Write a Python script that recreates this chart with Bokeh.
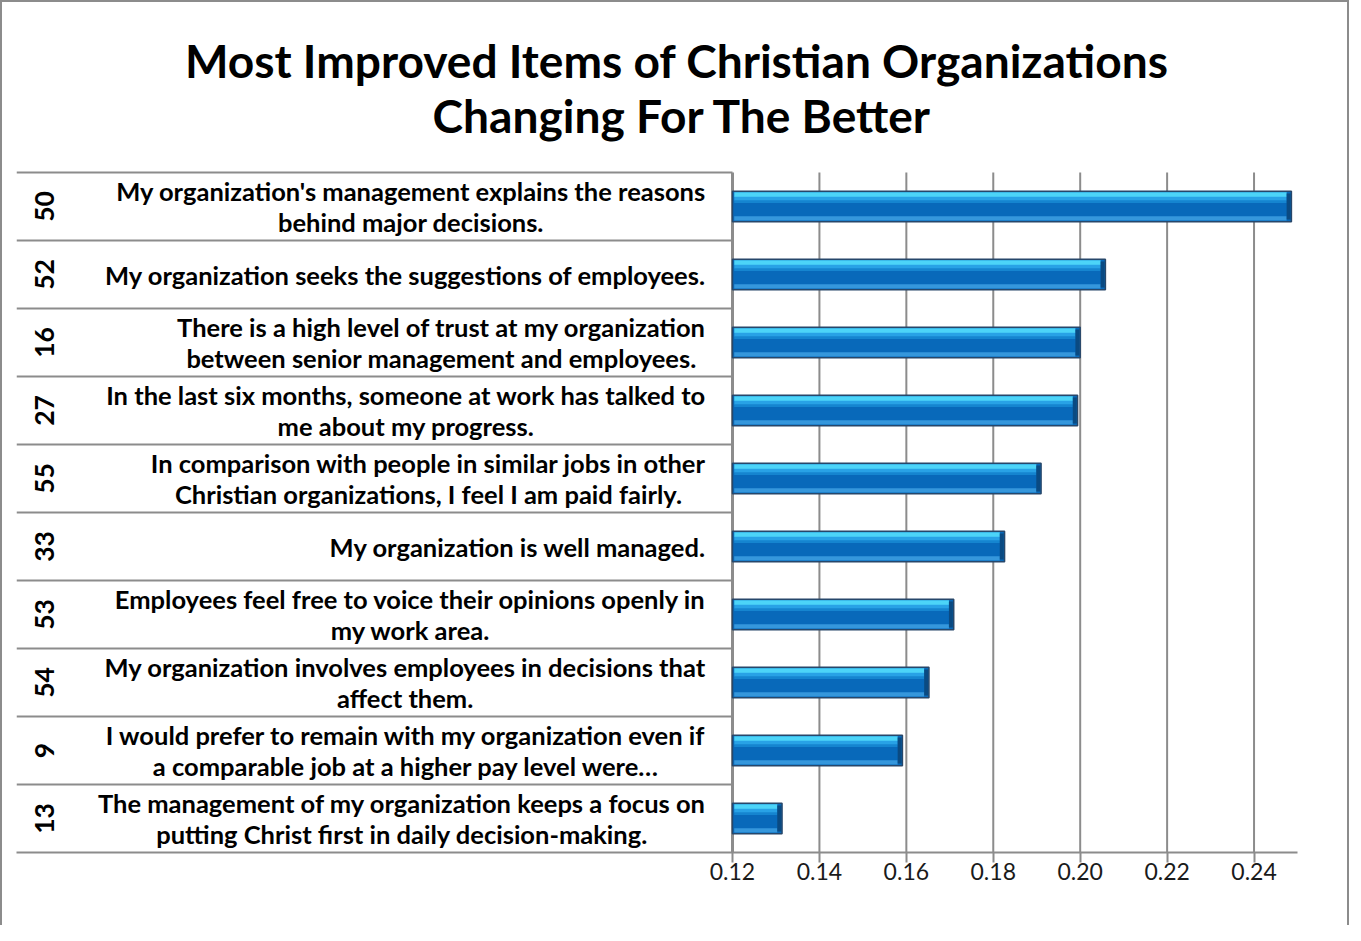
import subprocess
from bokeh.plotting import figure
from bokeh.models import (Range1d, FixedTicker, PrintfTickFormatter, ColumnDataSource)
from bokeh.core.properties import value
from bokeh.embed import file_html
from bokeh.resources import INLINE

# ---------------- data ----------------
item_ids = ["50", "52", "16", "27", "55", "33", "53", "54", "9", "13"]
item_texts = [
    ["My organization's management explains the reasons", "behind major decisions."],
    ["My organization seeks the suggestions of employees."],
    ["There is a high level of trust at my organization", "between senior management and employees."],
    ["In the last six months, someone at work has talked to", "me about my progress."],
    ["In comparison with people in similar jobs in other", "Christian organizations, I feel I am paid fairly."],
    ["My organization is well managed."],
    ["Employees feel free to voice their opinions openly in", "my work area."],
    ["My organization involves employees in decisions that", "affect them."],
    ["I would prefer to remain with my organization even if", "a comparable job at a higher pay level were\u2026"],
    ["The management of my organization keeps a focus on", "putting Christ first in daily decision-making."],
]
improvement = [0.2486, 0.2058, 0.2000, 0.1994, 0.1910, 0.1826, 0.1709, 0.1652, 0.1591, 0.1314]
tick_values = [0.12, 0.14, 0.16, 0.18, 0.20, 0.22, 0.24]
title_lines = ["Most Improved Items of  Christian Organizations", "Changing For The Better"]

# ---------------- layout constants (pixels) ----------------
FONT = "Lato"
W, H = 1349, 925
BORDER_L, BORDER_R, BORDER_T, BORDER_B = 14, 54, 0, 75
FRAME_W = W - BORDER_L - BORDER_R
FRAME_H = H - BORDER_T - BORDER_B
HEAD_PX = 170             # title band above the table
LABEL_AREA = 716          # frame-left to value axis
LABEL_RIGHT = 689         # right edge of statement text block
NUM_X = 28                # centre of the item-number column
TITLE_X = 666             # centre of the title
TITLE_Y = [57, 112]       # centres of the two title lines
X_MIN, X_MAX = 0.12, 0.25
n = len(item_ids)
ROW_PX = (FRAME_H - HEAD_PX) / n


def font_file(pattern):
    try:
        out = subprocess.run(["fc-match", "-f", "%{file}", pattern],
                             capture_output=True, text=True, timeout=5).stdout.strip()
        return out or None
    except Exception:
        return None


def measurer(pattern, fallback_em):
    try:
        from PIL import ImageFont
        f = ImageFont.truetype(font_file(pattern), 100)
        return lambda t, s: f.getlength(t) * s / 100.0
    except Exception:
        return lambda t, s: len(t) * fallback_em * s


m_bold = measurer(f"{FONT}:bold", 0.55)

label_size = 600.0 / m_bold("My organization seeks the suggestions of employees.", 1.0)
title_size = 995.0 / m_bold(title_lines[0], 1.0)
LINE_GAP = 31.0 / ROW_PX

# ---------------- figure ----------------
x_left = X_MIN - LABEL_AREA * (X_MAX - X_MIN) / (FRAME_W - LABEL_AREA)
y_top = -HEAD_PX / ROW_PX
p = figure(width=W, height=H, output_backend="svg", toolbar_location=None,
           x_range=Range1d(x_left, X_MAX), y_range=Range1d(n, y_top),
           min_border_left=BORDER_L, min_border_right=BORDER_R,
           min_border_top=BORDER_T, min_border_bottom=BORDER_B)
p.extra_x_ranges = {"px": Range1d(0, FRAME_W)}
p.extra_y_ranges = {"py": Range1d(FRAME_H, 0)}
p.outline_line_color = None
p.background_fill_color = "white"
p.border_fill_color = "white"
p.styles = {"border-top": "2px solid #8c8c8c", "border-left": "2px solid #8c8c8c",
            "border-right": "2px solid #8c8c8c"}

# axes
p.yaxis.visible = False
p.xgrid.visible = False
p.ygrid.visible = False
ticker = FixedTicker(ticks=tick_values)
p.xaxis.ticker = ticker
p.xaxis.formatter = PrintfTickFormatter(format="%.2f")
p.xaxis.axis_line_color = "#8c8c8c"
p.xaxis.axis_line_width = 2
p.xaxis.major_tick_line_color = "#8c8c8c"
p.xaxis.major_tick_line_width = 2
p.xaxis.major_tick_out = 10
p.xaxis.major_tick_in = 0
p.xaxis.minor_tick_line_color = None
p.xaxis.major_label_standoff = 0
p.xaxis.major_label_text_font = FONT
p.xaxis.major_label_text_font_size = "23px"
p.xaxis.major_label_text_color = "#1a1a1a"

# vertical grid lines over the bar area only
p.segment(x0=tick_values[1:], x1=tick_values[1:], y0=[0] * (len(tick_values) - 1),
          y1=[n] * (len(tick_values) - 1), line_color="#8c8c8c", line_width=2)
# value axis line
p.segment(x0=[X_MIN], x1=[X_MIN], y0=[0], y1=[n], line_color="#8c8c8c", line_width=3)

# table row lines
bounds = list(range(n))
p.segment(x0=[0] * n, x1=[LABEL_AREA] * n, y0=bounds, y1=bounds,
          x_range_name="px", line_color="#8c8c8c", line_width=2)

# bars (glossy look built from stacked bands)
rows = [i + 0.5 for i in range(n)]
BAR_H = 0.45
src = ColumnDataSource(dict(y=rows, v=improvement))
p.hbar(y="y", left=X_MIN, right="v", height=BAR_H, source=src,
       fill_color="#0869BA", line_color="#27476A", line_width=1.5)
top = [r - BAR_H / 2 for r in rows]
bot = [r + BAR_H / 2 for r in rows]
inner_r = [v - 0.0011 for v in improvement]
p.hbar(y=[t + 0.05 for t in top], left=X_MIN + 0.0004, right=inner_r,
       height=0.07, fill_color="#4CD4F8", line_color=None)
p.hbar(y=[t + 0.11 for t in top], left=X_MIN + 0.0004, right=inner_r,
       height=0.06, fill_color="#28A2E6", line_color=None)
p.hbar(y=[t + 0.155 for t in top], left=X_MIN + 0.0004, right=inner_r,
       height=0.04, fill_color="#1585D0", line_color=None)
p.hbar(y=[b - 0.05 for b in bot], left=X_MIN + 0.0004, right=inner_r,
       height=0.06, fill_color="#3597DC", line_color=None)
p.hbar(y=rows, left=inner_r, right=[v - 0.0002 for v in improvement],
       height=BAR_H * 0.85, fill_color="#0A4578", line_color=None, fill_alpha=0.85)

# title
p.text(x=[TITLE_X] * 2, y=TITLE_Y, text=title_lines, x_range_name="px", y_range_name="py",
       text_align="center", text_baseline="middle", text_font=value(FONT),
       text_font_style="bold", text_font_size=f"{title_size:.1f}px", text_color="black")

# item numbers (rotated)
p.text(x=[NUM_X] * n, y=rows, text=item_ids, x_range_name="px", angle=1.5708,
       text_align="center", text_baseline="middle", text_font=value(FONT),
       text_font_style="bold", text_font_size=f"{label_size + 1:.1f}px", text_color="black")

# item statements (block right-aligned, lines centred)
lx, ly, lt = [], [], []
for r, lines in zip(rows, item_texts):
    maxw = max(m_bold(t, label_size) for t in lines)
    cx = LABEL_RIGHT - maxw / 2
    k = len(lines)
    for j, t in enumerate(lines):
        lx.append(cx)
        ly.append(r + (j - (k - 1) / 2) * LINE_GAP)
        lt.append(t)
p.text(x=lx, y=ly, text=lt, x_range_name="px", text_align="center",
       text_baseline="middle", text_font=value(FONT), text_font_style="bold",
       text_font_size=f"{label_size:.1f}px", text_color="black")

open("out.html", "w").write(file_html(p, INLINE))
